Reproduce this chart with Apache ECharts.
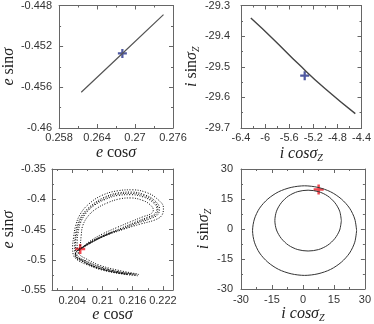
<!DOCTYPE html>
<html>
<head>
<meta charset="utf-8">
<script src="https://cdn.jsdelivr.net/npm/echarts@6/dist/echarts.min.js"></script>
<style>
html, body { margin: 0; padding: 0; background: #fff; }
#main { width: 374px; height: 324px; }
</style>
</head>
<body>
<div id="main"></div>
<script>
// top left: e cos / e sin
var eCosTrack = [0.2615, 0.2680, 0.2745];
var eSinTrack = [-0.4565, -0.4527, -0.4489];
var eNowTop = [0.2680, -0.4527];

// top right: i cos / i sin
var iCosTrack = [-6.237, -5.868, -5.436, -5.002, -4.503];
var iSinTrack = [-29.341, -29.409, -29.493, -29.572, -29.653];
var iNowTop = [-5.343, -29.529];

// bottom left: dotted strands of the loop
var strandA = [[0.2170,-0.5263],[0.2137,-0.5231],[0.2098,-0.5166],[0.2069,-0.5080],[0.2050,-0.4999],[0.2042,-0.4908],[0.2041,-0.4785],[0.2043,-0.4623],[0.2047,-0.4435],[0.2056,-0.4247],[0.2072,-0.4086],[0.2098,-0.3940],[0.2130,-0.3860],[0.2159,-0.3844],[0.2187,-0.3887],[0.2208,-0.3989],[0.2221,-0.4139],[0.2218,-0.4263],[0.2205,-0.4338],[0.2176,-0.4408],[0.2143,-0.4489],[0.2111,-0.4569],[0.2085,-0.4666],[0.2066,-0.4758],[0.2053,-0.4828]];
var strandB = [[0.2172,-0.5241],[0.2137,-0.5204],[0.2098,-0.5123],[0.2069,-0.5026],[0.2052,-0.4946],[0.2045,-0.4854],[0.2045,-0.4731],[0.2047,-0.4569],[0.2051,-0.4408],[0.2061,-0.4247],[0.2078,-0.4102],[0.2101,-0.3978],[0.2130,-0.3897],[0.2158,-0.3881],[0.2183,-0.3924],[0.2203,-0.4016],[0.2213,-0.4150],[0.2210,-0.4252],[0.2196,-0.4317],[0.2169,-0.4397],[0.2140,-0.4499],[0.2108,-0.4596],[0.2082,-0.4693],[0.2063,-0.4785]];
var strandC = [[0.2168,-0.5231],[0.2134,-0.5177],[0.2095,-0.5091],[0.2069,-0.4989],[0.2054,-0.4908],[0.2050,-0.4811],[0.2050,-0.4677],[0.2052,-0.4543],[0.2057,-0.4381],[0.2067,-0.4236],[0.2082,-0.4112],[0.2105,-0.4005],[0.2132,-0.3935],[0.2156,-0.3924],[0.2181,-0.3962],[0.2199,-0.4043],[0.2208,-0.4155],[0.2204,-0.4241],[0.2190,-0.4295],[0.2164,-0.4381],[0.2137,-0.4478],[0.2105,-0.4586],[0.2079,-0.4693],[0.2059,-0.4801]];
var strandD = [[0.2166,-0.5252],[0.2130,-0.5209],[0.2092,-0.5134],[0.2063,-0.5037],[0.2048,-0.4962],[0.2053,-0.4876],[0.2056,-0.4758],[0.2058,-0.4596],[0.2061,-0.4435],[0.2072,-0.4274],[0.2088,-0.4155],[0.2110,-0.4059],[0.2134,-0.3994],[0.2156,-0.3978],[0.2179,-0.4016],[0.2194,-0.4086],[0.2201,-0.4177],[0.2196,-0.4241],[0.2182,-0.4284],[0.2156,-0.4371],[0.2130,-0.4462],[0.2101,-0.4569],[0.2078,-0.4677],[0.2058,-0.4811]];
var strandE = [[0.2164,-0.5238],[0.2128,-0.5192],[0.2090,-0.5108],[0.2063,-0.5008],[0.2047,-0.4925],[0.2047,-0.4835],[0.2047,-0.4705],[0.2049,-0.4555],[0.2054,-0.4395],[0.2064,-0.4240],[0.2080,-0.4108],[0.2103,-0.3992],[0.2131,-0.3915],[0.2157,-0.3902],[0.2182,-0.3943],[0.2201,-0.4030],[0.2210,-0.4152],[0.2207,-0.4246],[0.2193,-0.4306],[0.2166,-0.4389],[0.2138,-0.4488],[0.2106,-0.4591],[0.2080,-0.4693],[0.2061,-0.4793]];
var denseCore = [[0.2150,-0.5240],[0.2115,-0.5190],[0.2080,-0.5100],[0.2058,-0.5005],[0.2046,-0.4925],[0.2049,-0.4860],[0.2056,-0.4823],[0.2072,-0.4745],[0.2095,-0.4640],[0.2120,-0.4545]];
var eNowLow = [0.2056, -0.4823];

// bottom right: two closed curves
var outerLoop = [[26.0,-0.8],[25.1,5.0],[22.6,10.4],[18.6,15.0],[13.4,18.6],[7.3,20.8],[0.8,21.6],[-5.7,20.8],[-11.8,18.6],[-17.0,15.0],[-21.0,10.4],[-23.5,5.0],[-24.4,-0.8],[-23.5,-6.6],[-21.0,-12.0],[-17.0,-16.6],[-11.8,-20.2],[-5.7,-22.4],[0.8,-23.2],[7.3,-22.4],[13.4,-20.2],[18.6,-16.6],[22.6,-12.0],[25.1,-6.6],[26.0,-0.8]];
var innerLoop = [[18.6,4.2],[17.8,8.9],[15.5,13.1],[12.0,16.5],[7.5,18.7],[2.5,19.4],[-2.5,18.7],[-7.0,16.5],[-10.5,13.1],[-12.8,8.9],[-13.6,4.2],[-12.8,-0.5],[-10.5,-4.7],[-7.0,-8.1],[-2.5,-10.3],[2.5,-11.0],[7.5,-10.3],[12.0,-8.1],[15.5,-4.7],[17.8,-0.5],[18.6,4.2]];
var iNowLow = [7.6, 19.8];

// ticks
var p1XMajor = [0.258, 0.264, 0.27, 0.276], p1XMinor = [0.261, 0.267, 0.273];
var p1YMajor = [-0.46, -0.456, -0.452, -0.448], p1YMinor = [-0.458, -0.454, -0.45];
var p2XMajor = [-6.4, -6, -5.6, -5.2, -4.8, -4.4], p2XMinor = [-6.2, -5.8, -5.4, -5.0, -4.6];
var p2YMajor = [-29.7, -29.6, -29.5, -29.4, -29.3], p2YMinor = [-29.65, -29.55, -29.45, -29.35];
var p3XMajor = [0.204, 0.21, 0.216, 0.222], p3XMinor = [0.201, 0.207, 0.213, 0.219];
var p3YMajor = [-0.55, -0.5, -0.45, -0.4, -0.35], p3YMinor = [-0.525, -0.475, -0.425, -0.375];
var p4Major = [-30, -15, 0, 15, 30], p4Minor = [-22.5, -7.5, 7.5, 22.5];

var serif = "'Liberation Serif', 'Times New Roman', serif";
var nameStyle = {
	fontFamily: serif, fontSize: 16, color: '#222',
	rich: {
		i: {fontFamily: serif, fontSize: 16, fontStyle: 'italic', color: '#222'},
		s: {fontFamily: serif, fontSize: 10, fontStyle: 'italic', color: '#222', padding: [8, 0, 0, 0]}
	}
};

function axisSet(dim, grid, min, max, major, minor, name, gap, margin) {
	var sides = dim == 'x' ? ['bottom', 'top'] : ['left', 'right'];
	var list = [];
	sides.forEach(function (side, s) {
		[major, minor].forEach(function (vals, m) {
			var main = s == 0 && m == 0;
			list.push({
				type: 'value', gridIndex: grid, position: side, min: min, max: max,
				name: main ? name : '', nameLocation: 'middle', nameGap: gap,
				nameRotate: dim == 'y' ? 90 : 0,
				nameTextStyle: nameStyle,
				axisLine: {show: m == 0, onZero: false, lineStyle: {color: '#666', width: 1}},
				axisTick: {show: true, inside: true, length: m == 0 ? 4 : 2, customValues: vals, lineStyle: {color: '#666'}},
				axisLabel: {
					show: main, customValues: major, margin: margin,
					fontFamily: "'Liberation Sans', Arial, sans-serif", fontSize: 11, color: '#333',
					formatter: function (v) { return String(+(+v).toFixed(4)); }
				},
				splitLine: {show: false}
			});
		});
	});
	return list;
}

var xAxes = [].concat(
	axisSet('x', 0, 0.258, 0.276, p1XMajor, p1XMinor, '{i|e} cos{i|σ}', 17, 4),
	axisSet('x', 1, -6.4, -4.4, p2XMajor, p2XMinor, '{i|i cosσ}{s|Z}', 17, 4),
	axisSet('x', 2, 0.2, 0.224, p3XMajor, p3XMinor, '{i|e} cos{i|σ}', 16, 5),
	axisSet('x', 3, -30, 30, p4Major, p4Minor, '{i|i cosσ}{s|Z}', 16, 5)
);
var yAxes = [].concat(
	axisSet('y', 0, -0.46, -0.448, p1YMajor, p1YMinor, '{i|e} sin{i|σ}', 32, 7),
	axisSet('y', 1, -29.7, -29.3, p2YMajor, p2YMinor, '{i|i} sin{i|σ}{s|Z}', 36, 11),
	axisSet('y', 2, -0.55, -0.35, p3YMajor, p3YMinor, '{i|e} sin{i|σ}', 32, 6),
	axisSet('y', 3, -30, 30, p4Major, p4Minor, '{i|i} sin{i|σ}{s|Z}', 22, 8)
);

var plus = 'path://M3,0H5V3H8V5H5V8H3V5H0V3H3Z';

function pairs(xs, ys) {
	return xs.map(function (x, k) { return [x, ys[k]]; });
}

function strand(data, dash) {
	return {
		type: 'line', xAxisIndex: 8, yAxisIndex: 8, data: data, smooth: 0.4,
		showSymbol: false, silent: true,
		lineStyle: {color: '#000', width: 1, type: dash || [1, 1.6]}
	};
}

var chart = echarts.init(document.getElementById('main'));
var option = {
	animation: false,
	grid: [
		{left: 50, top: 4, width: 123, height: 124},
		{left: 241, top: 5, width: 123, height: 123},
		{left: 49, top: 169, width: 124, height: 124},
		{left: 241, top: 169, width: 124, height: 124}
	],
	xAxis: xAxes,
	yAxis: yAxes,
	series: [
		{
			type: 'line', xAxisIndex: 0, yAxisIndex: 0, data: pairs(eCosTrack, eSinTrack),
			showSymbol: false, lineStyle: {color: '#555', width: 1.2}
		},
		{
			type: 'scatter', xAxisIndex: 0, yAxisIndex: 0, data: [eNowTop],
			symbol: plus, symbolSize: 9, itemStyle: {color: '#23308a'}
		},
		{
			type: 'line', xAxisIndex: 4, yAxisIndex: 4, data: pairs(iCosTrack, iSinTrack), smooth: true,
			showSymbol: false, lineStyle: {color: '#444', width: 1.4}
		},
		{
			type: 'scatter', xAxisIndex: 4, yAxisIndex: 4, data: [iNowTop],
			symbol: plus, symbolSize: 9, itemStyle: {color: '#23308a'}
		},
		strand(strandA),
		strand(strandB),
		strand(strandC),
		strand(strandD),
		strand(strandE),
		strand(denseCore, [2, 0.6]),
		{
			type: 'scatter', xAxisIndex: 8, yAxisIndex: 8, data: [eNowLow],
			symbol: plus, symbolSize: 10, itemStyle: {color: '#ee1c24'}
		},
		{
			type: 'line', xAxisIndex: 12, yAxisIndex: 12, data: outerLoop, smooth: 0.3,
			showSymbol: false, lineStyle: {color: '#333', width: 1}
		},
		{
			type: 'line', xAxisIndex: 12, yAxisIndex: 12, data: innerLoop, smooth: 0.3,
			showSymbol: false, lineStyle: {color: '#333', width: 1}
		},
		{
			type: 'scatter', xAxisIndex: 12, yAxisIndex: 12, data: [iNowLow],
			symbol: plus, symbolSize: 10, itemStyle: {color: '#ee1c24'}
		}
	]
};
chart.setOption(option);
</script>
</body>
</html>
